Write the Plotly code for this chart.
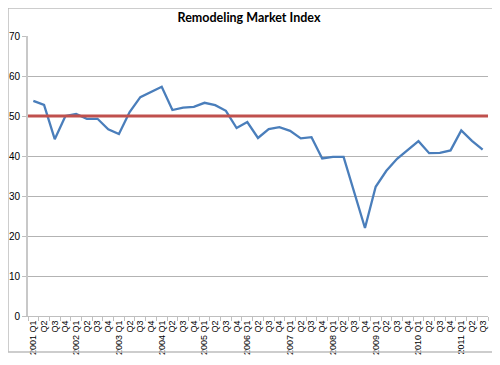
import plotly.graph_objects as go

years = list(range(2001, 2012))
quarters = ["Q1", "Q2", "Q3", "Q4"]
n_points = 43

cat_keys = [f"{yr}-{q}" for yr in years for q in quarters][:n_points]
tick_labels = [f"{yr} {q}" if q == "Q1" else q for yr in years for q in quarters][:n_points]

index_values = [
    53.8, 52.8, 44.2, 50.0,
    50.5, 49.3, 49.3, 46.7,
    45.5, 51.0, 54.7, 56.0,
    57.3, 51.5, 52.1, 52.3,
    53.3, 52.7, 51.3, 47.0,
    48.5, 44.5, 46.7, 47.2,
    46.3, 44.4, 44.7, 39.4,
    39.8, 39.8, 31.0, 22.0,
    32.3, 36.3, 39.3, 41.4,
    43.7, 40.7, 40.8, 41.4,
    46.4, 43.8, 41.6,
]
reference_level = 50

y_ticks = [0, 10, 20, 30, 40, 50, 60, 70]

# page body adds an 8px margin, so the figure is sized to fit the 500x365 window
W, H = 492, 357
PL, PR, PT, PB = 20, 12, 28, 49
pw, ph = W - PL - PR, H - PT - PB

fig = go.Figure()
fig.add_trace(go.Scatter(
    x=cat_keys, y=index_values, mode="lines",
    line=dict(color="#4a7ebb", width=2.3),
    showlegend=False, hoverinfo="skip",
))

fig.update_layout(
    width=W, height=H,
    margin=dict(l=PL, r=PR, t=PT, b=PB, autoexpand=False),
    paper_bgcolor="white", plot_bgcolor="white",
    title=dict(text="<b>Remodeling Market Index</b>", x=241 / W, xanchor="center",
               y=1 - 10 / H, yanchor="middle",
               font=dict(family="Lato", size=12.5, color="#000000")),
    font=dict(family="Liberation Sans", size=9, color="#000000"),
)
# chart frame
fig.add_shape(type="rect", xref="paper", yref="paper",
              x0=-PL / pw, x1=(W - 5 - PL) / pw, y0=-36 / ph, y1=1 + PT / ph,
              line=dict(color="#bdbdbd", width=1.5), fillcolor="rgba(0,0,0,0)",
              layer="above")
fig.add_hline(y=reference_level, line=dict(color="#c0504d", width=3))

fig.update_xaxes(
    type="category", tickmode="array", tickvals=cat_keys, ticktext=tick_labels,
    tickangle=-90, tickson="boundaries", ticks="outside", ticklen=4,
    tickcolor="#bfbfbf", showline=True, linecolor="#bfbfbf", linewidth=1,
    showgrid=False, tickfont=dict(size=9, family="Liberation Sans"),
    range=[-0.5, n_points - 0.5], automargin=False,
)
fig.update_yaxes(
    range=[0, 70], tickvals=y_ticks, showgrid=True, gridcolor="#b3b3b3", gridwidth=1,
    showline=True, linecolor="#c8c8c8", linewidth=2, ticks="outside", ticklen=4,
    tickcolor="#bfbfbf", zeroline=False, tickfont=dict(size=10, family="Liberation Sans"),
    automargin=False,
)

fig.write_html("out.html")
